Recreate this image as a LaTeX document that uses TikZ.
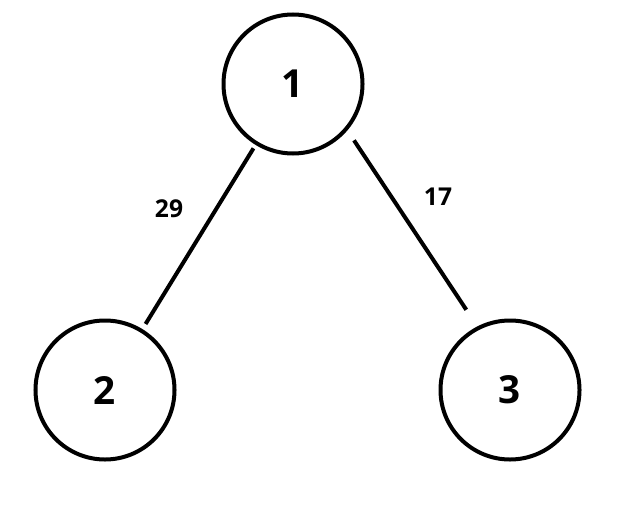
\documentclass[tikz,border=0pt]{standalone}
\usepackage{fontspec}
\setmainfont{Open Sans}
\begin{document}
\begin{tikzpicture}[
    x = 0.03cm,
    y = -0.03cm,
    vertex/.style = {circle, draw=black, line width=0.12cm, minimum size=4.17cm,
    inner sep=0pt, outer sep=0pt, font=\fontsize{33}{36}\selectfont\bfseries},
    weight/.style = {inner sep=0pt, font=\fontsize{21}{23}\selectfont\bfseries},
    edge/.style = {draw=black, line width=0.12cm},
]

\useasboundingbox (0,0) rectangle (625,510);

\node[vertex] (vertex_1) at (293,84){1};
\node[vertex] (vertex_2) at (105,390){2};
\node[vertex] (vertex_3) at (510,390){3};
\draw [edge, shorten <=0.18cm, shorten >=0.24cm] (vertex_1) -- (vertex_2);
\draw [edge, shorten <=0.42cm, shorten >=0.66cm] (vertex_1.-40) -- (vertex_3.117);

\node[weight] (weight_12) at (169,209){29};
\node[weight] (weight_13) at (438,197){17};

\end{tikzpicture}
\end{document}
